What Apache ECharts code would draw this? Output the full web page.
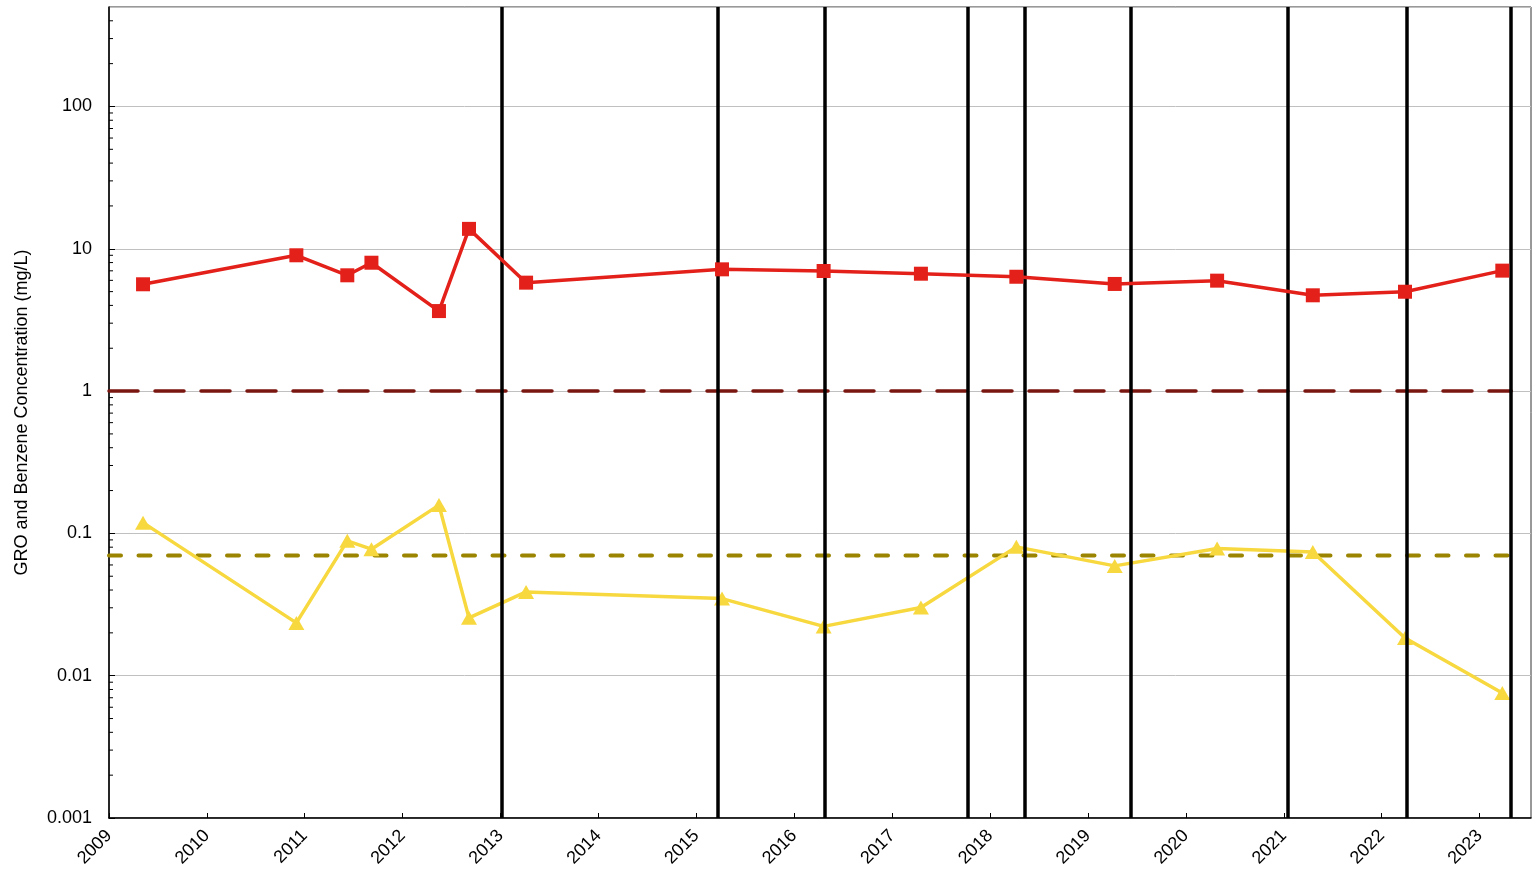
<!DOCTYPE html>
<html>
<head>
<meta charset="utf-8">
<script src="https://cdn.jsdelivr.net/npm/echarts@6/dist/echarts.min.js"></script>
<style>
  html, body { margin: 0; padding: 0; background: #fff; }
  #chart { width: 1536px; height: 877px; }
</style>
</head>
<body>
<div id="chart"></div>
<script>
// Sampling dates and measured concentrations (mg/L)
const sampleDates = ['2009-05-08', '2010-12-01', '2011-06-09', '2011-09-07', '2012-05-16', '2012-09-05',
  '2013-04-06', '2015-04-07', '2016-04-20', '2017-04-18', '2018-04-09', '2019-04-11',
  '2020-04-27', '2021-04-19', '2022-03-29', '2023-03-27'];
const groValues = [5.63, 9.0, 6.51, 7.98, 3.65, 13.8, 5.78, 7.17, 6.98, 6.68, 6.36, 5.66, 5.97, 4.71, 4.99, 7.02];
const benzeneValues = [0.119, 0.0235, 0.0886, 0.0774, 0.158, 0.0255, 0.0388, 0.0348, 0.0222, 0.0301,
  0.0804, 0.0591, 0.0783, 0.0741, 0.0184, 0.00755];

// Cleanup levels (mg/L) and the span they are drawn over
const groCleanupLevel = 1;
const benzeneCleanupLevel = 0.07;
const cleanupSpan = ['2009-01-01', '2023-04-29'];

// Site events marked with vertical lines
const eventDates = ['2013-01-04', '2015-03-21', '2016-04-23', '2017-10-09', '2018-05-10',
  '2019-06-10', '2021-01-16', '2022-04-04', '2023-04-29'];

// Axis ranges and labelled decades
const xRange = ['2009-01-01', '2023-07-12'];
const yRange = [0.001, 500];
const yTickValues = [0.001, 0.01, 0.1, 1, 10, 100];
const yTickLabels = ['0.001', '0.01', '0.1', '1', '10', '100'];

const FONT = 'Liberation Sans, Arial, sans-serif';

// Minor ticks at 2..9 within each decade
const minorTicks = [];
for (let k = -3; k <= 2; k++) {
  for (let m = 2; m <= 9; m++) {
    const v = m * Math.pow(10, k);
    if (v < yRange[1]) minorTicks.push([xRange[0], v]);
  }
}

const chart = echarts.init(document.getElementById('chart'), null, { renderer: 'canvas' });

const option = {
  animation: false,
  backgroundColor: '#fff',
  grid: {
    left: 109, right: 5, top: 7, bottom: 59,
    show: true, borderColor: '#333', borderWidth: 1, containLabel: false
  },
  xAxis: {
    type: 'time',
    min: xRange[0],
    max: xRange[1],
    splitNumber: 15,
    minInterval: 365 * 24 * 3600 * 1000,
    axisLine: { lineStyle: { color: '#000', width: 1.5 } },
    axisTick: { show: true, inside: true, length: 5, lineStyle: { color: '#000' } },
    splitLine: { show: false },
    axisLabel: {
      rotate: 45,
      margin: 15,
      color: '#000',
      fontFamily: FONT,
      fontSize: 18,
      formatter: (v) => String(new Date(v).getFullYear())
    }
  },
  yAxis: {
    type: 'log',
    logBase: 10,
    min: yRange[0],
    max: yRange[1],
    name: 'GRO and Benzene Concentration (mg/L)',
    nameLocation: 'middle',
    nameGap: 78,
    nameTextStyle: { color: '#000', fontFamily: FONT, fontSize: 18 },
    axisLine: { show: true, lineStyle: { color: '#000', width: 1.5 } },
    axisTick: { show: true, inside: true, length: 6, lineStyle: { color: '#000' } },
    splitLine: { show: true, lineStyle: { color: '#c0c0c0', width: 1 } },
    axisLabel: {
      margin: 17,
      color: '#000',
      fontFamily: FONT,
      fontSize: 18,
      showMaxLabel: false,
      formatter: (v) => {
        for (let i = 0; i < yTickValues.length; i++) {
          if (Math.abs(Math.log10(v) - Math.log10(yTickValues[i])) < 1e-6) return yTickLabels[i];
        }
        return '';
      }
    }
  },
  series: [
    {
      // minor ticks on the concentration axis
      type: 'custom',
      silent: true,
      clip: false,
      z: 1,
      data: minorTicks,
      renderItem: (params, api) => {
        const p = api.coord([api.value(0), api.value(1)]);
        return {
          type: 'line',
          shape: { x1: p[0], y1: p[1], x2: p[0] + 4, y2: p[1] },
          style: { stroke: '#000', lineWidth: 1 }
        };
      }
    },
    {
      // event lines
      type: 'line',
      data: [],
      silent: true,
      z: 2,
      markLine: {
        silent: true,
        symbol: ['none', 'none'],
        label: { show: false },
        lineStyle: { color: '#000', width: 3.5, type: 'solid' },
        emphasis: { disabled: true },
        data: eventDates.map(d => ({ xAxis: d }))
      }
    },
    {
      name: 'GRO cleanup level',
      type: 'line',
      z: 3,
      silent: true,
      showSymbol: false,
      data: cleanupSpan.map(d => [d, groCleanupLevel]),
      lineStyle: { color: '#7a1610', width: 3.5, type: [29, 17], cap: 'round' }
    },
    {
      name: 'Benzene cleanup level',
      type: 'line',
      z: 3,
      silent: true,
      showSymbol: false,
      data: cleanupSpan.map(d => [d, benzeneCleanupLevel]),
      lineStyle: { color: '#9a8400', width: 4, type: [12, 17.5], cap: 'round' }
    },
    {
      name: 'GRO',
      type: 'line',
      z: 5,
      data: sampleDates.map((d, i) => [d, groValues[i]]),
      symbol: 'rect',
      symbolSize: 14,
      itemStyle: { color: '#e3211a' },
      lineStyle: { color: '#e3211a', width: 3.5 }
    },
    {
      name: 'Benzene',
      type: 'line',
      z: 4,
      data: sampleDates.map((d, i) => [d, benzeneValues[i]]),
      symbol: 'triangle',
      symbolSize: [16, 14],
      itemStyle: { color: '#f7d83f' },
      lineStyle: { color: '#f7d83f', width: 3.5 }
    }
  ]
};

chart.setOption(option);
</script>
</body>
</html>
